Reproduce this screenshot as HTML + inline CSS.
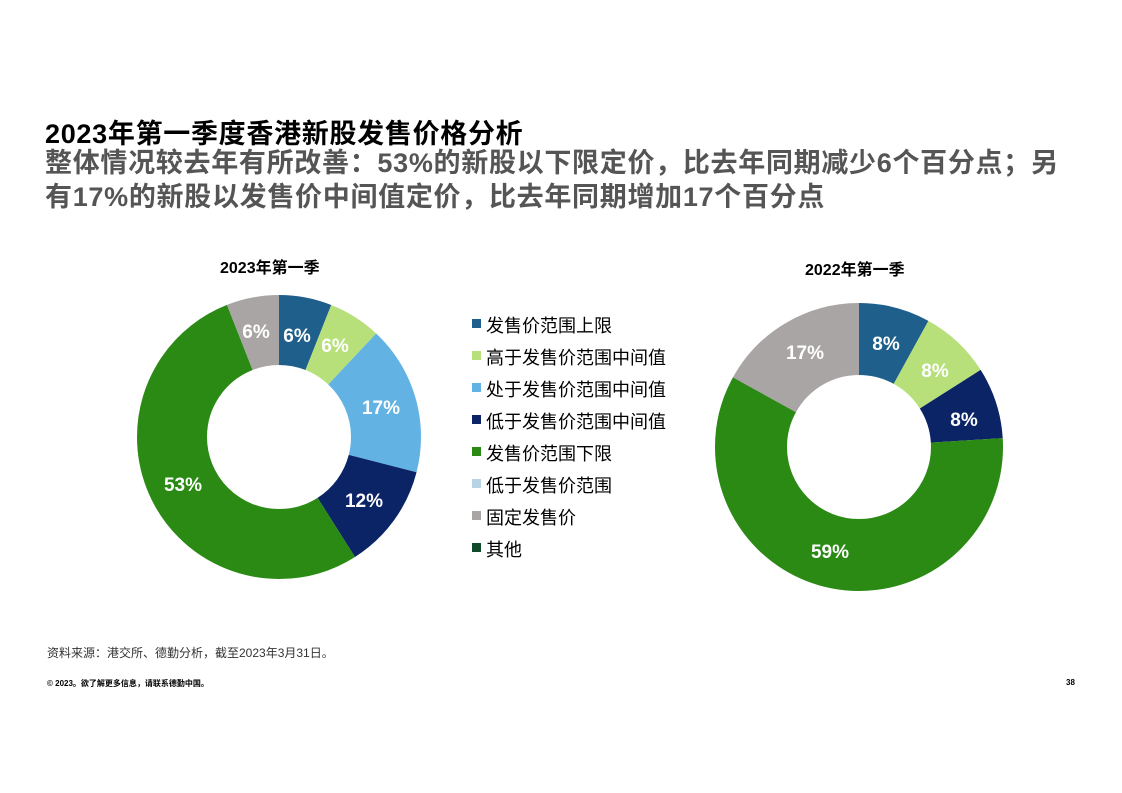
<!DOCTYPE html>
<html><head><meta charset="utf-8"><style>
body{margin:0;width:1122px;height:793px;background:#fff;position:relative;font-family:"Liberation Sans","Noto Sans CJK SC",sans-serif;overflow:hidden}
.t{position:absolute;white-space:nowrap}
</style></head><body>
<div class="t" style="left:45px;top:112px;font-size:27px;font-weight:bold;color:#000;letter-spacing:0.7px">2023年第一季度香港新股发售价格分析</div>
<div class="t" style="left:45px;top:146px;font-size:27px;font-weight:bold;color:#555;line-height:34px;letter-spacing:0.7px">整体情况较去年有所改善：53%的新股以下限定价，比去年同期减少6个百分点；另<br>有17%的新股以发售价中间值定价，比去年同期增加17个百分点</div>
<div class="t" style="left:220px;top:254px;font-size:16px;font-weight:bold">2023年第一季</div>
<div class="t" style="left:805px;top:256px;font-size:16px;font-weight:bold">2022年第一季</div>
<svg width="1122" height="793" style="position:absolute;left:0;top:0" font-family="Liberation Sans" font-weight="bold" fill="#fff">
<g transform="rotate(-90 279 437)" fill="none" stroke-width="70">
<circle cx="279" cy="437" r="107" stroke="#1f5f8b" stroke-dasharray="40.3 700" stroke-dashoffset="0"/>
<circle cx="279" cy="437" r="107" stroke="#b7e07a" stroke-dasharray="40.3 700" stroke-dashoffset="-40.3"/>
<circle cx="279" cy="437" r="107" stroke="#62b3e4" stroke-dasharray="114.3 700" stroke-dashoffset="-80.6"/>
<circle cx="279" cy="437" r="107" stroke="#0b2466" stroke-dasharray="80.7 700" stroke-dashoffset="-194.9"/>
<circle cx="279" cy="437" r="107" stroke="#2a8a14" stroke-dasharray="356.3 700" stroke-dashoffset="-275.6"/>
<circle cx="279" cy="437" r="107" stroke="#a9a5a5" stroke-dasharray="40.4 700" stroke-dashoffset="-631.9"/>
</g>
<g transform="rotate(-90 859 447)" fill="none" stroke-width="72">
<circle cx="859" cy="447" r="108" stroke="#1f5f8b" stroke-dasharray="54.3 700" stroke-dashoffset="0"/>
<circle cx="859" cy="447" r="108" stroke="#b7e07a" stroke-dasharray="54.3 700" stroke-dashoffset="-54.3"/>
<circle cx="859" cy="447" r="108" stroke="#0b2466" stroke-dasharray="54.3 700" stroke-dashoffset="-108.6"/>
<circle cx="859" cy="447" r="108" stroke="#2a8a14" stroke-dasharray="400.4 700" stroke-dashoffset="-162.9"/>
<circle cx="859" cy="447" r="108" stroke="#a9a5a5" stroke-dasharray="115.3 700" stroke-dashoffset="-563.2"/>
</g>
<g font-size="19" text-anchor="middle">
<text x="297" y="342">6%</text><text x="335" y="352">6%</text><text x="381" y="414">17%</text>
<text x="364" y="507">12%</text><text x="183" y="491">53%</text><text x="256" y="338">6%</text>
<text x="886" y="350">8%</text><text x="935" y="377">8%</text><text x="964" y="426">8%</text>
<text x="830" y="558">59%</text><text x="805" y="359">17%</text>
</g>
<g font-size="18" font-weight="normal" fill="#000" font-family="Liberation Sans,Noto Sans CJK SC,sans-serif">
<rect x="472" y="319" width="9" height="9" fill="#1f5f8b"/><text x="486" y="332">发售价范围上限</text>
<rect x="472" y="351" width="9" height="9" fill="#b7e07a"/><text x="486" y="364">高于发售价范围中间值</text>
<rect x="472" y="383" width="9" height="9" fill="#62b3e4"/><text x="486" y="396">处于发售价范围中间值</text>
<rect x="472" y="415" width="9" height="9" fill="#0b2466"/><text x="486" y="428">低于发售价范围中间值</text>
<rect x="472" y="447" width="9" height="9" fill="#2a8a14"/><text x="486" y="460">发售价范围下限</text>
<rect x="472" y="479" width="9" height="9" fill="#b8d3e6"/><text x="486" y="492">低于发售价范围</text>
<rect x="472" y="511" width="9" height="9" fill="#a9a5a5"/><text x="486" y="524">固定发售价</text>
<rect x="472" y="543" width="9" height="9" fill="#0f4a2a"/><text x="486" y="556">其他</text>
</g>
</svg>
<div class="t" style="left:47px;top:644px;font-size:12px;color:#333">资料来源：港交所、德勤分析，截至2023年3月31日。</div>
<div class="t" style="left:47px;top:678px;font-size:8px;color:#000;font-weight:bold">© 2023。欲了解更多信息，请联系德勤中国。</div>
<div class="t" style="left:1066px;top:678px;font-size:8px;color:#000;font-weight:bold">38</div>
</body></html>
